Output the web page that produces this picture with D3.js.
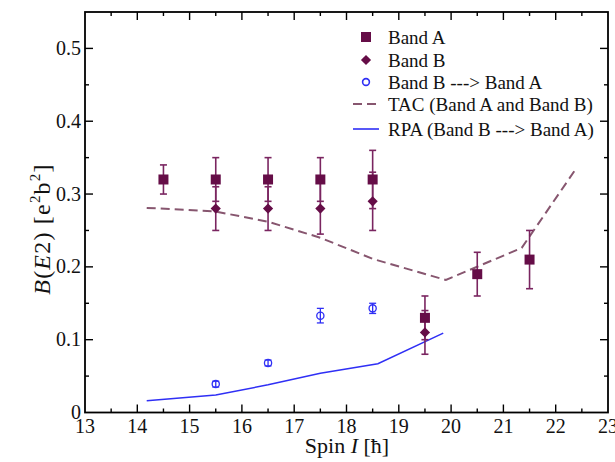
<!DOCTYPE html>
<html>
<head>
<meta charset="utf-8">
<script src="https://cdn.jsdelivr.net/npm/d3@7"></script>
<style>
  html, body { margin: 0; padding: 0; background: #fff; }
  svg { display: block; }
</style>
</head>
<body>
<svg id="chart" width="615" height="462"></svg>
<script>
// Band A (squares)
const bandASpin = [14.5, 15.5, 16.5, 17.5, 18.5, 19.5, 20.5, 21.5];
const bandAVal  = [0.32, 0.32, 0.32, 0.32, 0.32, 0.13, 0.19, 0.21];
const bandAErr  = [0.02, 0.03, 0.03, 0.03, 0.04, 0.03, 0.03, 0.04];

// Band B (diamonds)
const bandBSpin = [15.5, 16.5, 17.5, 18.5, 19.5];
const bandBVal  = [0.28, 0.28, 0.28, 0.29, 0.11];
const bandBErr  = [0.03, 0.03, 0.035, 0.04, 0.03];

// Band B ---> Band A (open circles)
const transSpin = [15.5, 16.5, 17.5, 18.5];
const transVal  = [0.039, 0.068, 0.133, 0.143];
const transErr  = [0.004, 0.004, 0.010, 0.007];

// TAC calculation
const tacSpin = [14.18, 15.5, 16.5, 17.5, 18.5, 19.9, 21.35, 22.4];
const tacVal  = [0.281, 0.276, 0.262, 0.240, 0.211, 0.182, 0.226, 0.336];

// RPA calculation
const rpaSpin = [14.18, 15.5, 16.5, 17.5, 18.6, 19.85];
const rpaVal  = [0.016, 0.024, 0.038, 0.054, 0.067, 0.109];

// Axis ticks
const xTicks = [13, 14, 15, 16, 17, 18, 19, 20, 21, 22, 23];
const yTicks = [0, 0.1, 0.2, 0.3, 0.4, 0.5];
const yTickLabels = ["0", "0.1", "0.2", "0.3", "0.4", "0.5"];

const legendItems = ["Band A", "Band B", "Band B ---> Band A",
                     "TAC (Band A and Band B)", "RPA (Band B ---> Band A)"];

const maroon = "#650d47";
const errColor = "#7a2560";
const tacColor = "#87566f";
const blue = "#2f2ff5";
const serif = "'Liberation Serif', 'Times New Roman', Times, serif";

const svg = d3.select("#chart").style("font-family", serif);
const pLeft = 85, pRight = 608, pTop = 12, pBottom = 412.5;

const x = d3.scaleLinear().domain([13, 23]).range([pLeft, pRight]);
const y = d3.scaleLinear().domain([0, 0.55]).range([pBottom, pTop]);

const zip = (xs, ys) => xs.map((s, i) => [s, ys[i]]);

// Tick marks on all four sides, pointing inward
const xMinor = d3.range(13.5, 23, 1);
const yMinor = d3.range(0.05, 0.55, 0.1);
const ticks = svg.append("g").attr("stroke", "#000").attr("stroke-width", 1.4);
function xTickMarks(vals, len) {
  vals.forEach(v => {
    ticks.append("line").attr("x1", x(v)).attr("x2", x(v)).attr("y1", pBottom).attr("y2", pBottom - len);
    ticks.append("line").attr("x1", x(v)).attr("x2", x(v)).attr("y1", pTop).attr("y2", pTop + len);
  });
}
function yTickMarks(vals, len) {
  vals.forEach(v => {
    ticks.append("line").attr("y1", y(v)).attr("y2", y(v)).attr("x1", pLeft).attr("x2", pLeft + len);
    ticks.append("line").attr("y1", y(v)).attr("y2", y(v)).attr("x1", pRight).attr("x2", pRight - len);
  });
}
xTickMarks(xTicks.slice(1, -1), 8);
xTickMarks(xMinor, 4);
yTickMarks(yTicks.slice(1), 8);
yTickMarks(yMinor, 4);

// Frame
svg.append("rect")
  .attr("x", pLeft).attr("y", pTop)
  .attr("width", pRight - pLeft).attr("height", pBottom - pTop)
  .attr("fill", "none").attr("stroke", "#000").attr("stroke-width", 1.8);

// Tick labels
svg.append("g").selectAll("text").data(xTicks).join("text")
  .attr("x", d => x(d)).attr("y", 433)
  .attr("text-anchor", "middle").attr("font-size", 20).attr("fill", "#111")
  .text(d => d);
svg.append("g").selectAll("text").data(yTicks).join("text")
  .attr("x", 81).attr("y", d => y(d) + 6.5)
  .attr("text-anchor", "end").attr("font-size", 20).attr("fill", "#111")
  .text((d, i) => yTickLabels[i]);

// Axis titles
const xt = svg.append("text").attr("x", 347).attr("y", 453)
  .attr("text-anchor", "middle").attr("font-size", 22).attr("fill", "#111");
xt.append("tspan").text("Spin ");
xt.append("tspan").attr("font-style", "italic").text("I");
xt.append("tspan").text(" [ħ]");

const yt = svg.append("text")
  .attr("transform", "translate(50,229) rotate(-90)")
  .attr("text-anchor", "middle").attr("font-size", 24)
  .attr("letter-spacing", 1.2).attr("fill", "#111");
yt.append("tspan").attr("font-style", "italic").text("B");
yt.append("tspan").text("(");
yt.append("tspan").attr("font-style", "italic").text("E");
yt.append("tspan").text("2) [e");
yt.append("tspan").attr("font-size", 15).attr("dy", -10).text("2");
yt.append("tspan").attr("dy", 10).text("b");
yt.append("tspan").attr("font-size", 15).attr("dy", -10).text("2");
yt.append("tspan").attr("dy", 10).text("]");

// Theory curves
const line = d3.line().x(d => x(d[0])).y(d => y(d[1]));
svg.append("path").datum(zip(tacSpin, tacVal))
  .attr("d", line).attr("fill", "none")
  .attr("stroke", tacColor).attr("stroke-width", 2)
  .attr("stroke-dasharray", "9,5");
svg.append("path").datum(zip(rpaSpin, rpaVal))
  .attr("d", line).attr("fill", "none")
  .attr("stroke", blue).attr("stroke-width", 1.5);

// Error bars
function errorBars(spins, vals, errs, color, cap, width) {
  const g = svg.append("g").attr("stroke", color).attr("stroke-width", width).attr("fill", "none");
  spins.forEach((s, i) => {
    const cx = x(s), lo = y(vals[i] - errs[i]), hi = y(vals[i] + errs[i]);
    g.append("line").attr("x1", cx).attr("x2", cx).attr("y1", lo).attr("y2", hi);
    g.append("line").attr("x1", cx - cap).attr("x2", cx + cap).attr("y1", lo).attr("y2", lo);
    g.append("line").attr("x1", cx - cap).attr("x2", cx + cap).attr("y1", hi).attr("y2", hi);
  });
}
errorBars(bandASpin, bandAVal, bandAErr, errColor, 3.5, 1.6);
errorBars(bandBSpin, bandBVal, bandBErr, errColor, 3.5, 1.6);
errorBars(transSpin, transVal, transErr, blue, 3.5, 1.3);

// Markers: filled squares, diamonds (rotated squares), open circles
const sq = d3.symbol().type(d3.symbolSquare).size(100);
const dia = d3.symbol().type(d3.symbolSquare).size(52);

svg.append("g").selectAll("path").data(zip(bandASpin, bandAVal)).join("path")
  .attr("d", sq).attr("transform", d => `translate(${x(d[0])},${y(d[1])})`)
  .attr("fill", maroon);
svg.append("g").selectAll("path").data(zip(bandBSpin, bandBVal)).join("path")
  .attr("d", dia).attr("transform", d => `translate(${x(d[0])},${y(d[1])}) rotate(45)`)
  .attr("fill", maroon);
svg.append("g").selectAll("circle").data(zip(transSpin, transVal)).join("circle")
  .attr("cx", d => x(d[0])).attr("cy", d => y(d[1])).attr("r", 3.6)
  .attr("fill", "none").attr("stroke", blue).attr("stroke-width", 1.3);

// Legend
const lg = svg.append("g");
const rowY = [37, 60, 82, 104, 129];
const mx = 366, tx = 388;
lg.append("path").attr("d", sq).attr("transform", `translate(${mx},${rowY[0]})`).attr("fill", maroon);
lg.append("path").attr("d", dia).attr("transform", `translate(${mx},${rowY[1]}) rotate(45)`).attr("fill", maroon);
lg.append("circle").attr("cx", mx).attr("cy", rowY[2]).attr("r", 3.4)
  .attr("fill", "none").attr("stroke", blue).attr("stroke-width", 1.6);
lg.append("line").attr("x1", 353).attr("x2", 379).attr("y1", rowY[3]).attr("y2", rowY[3])
  .attr("stroke", tacColor).attr("stroke-width", 2).attr("stroke-dasharray", "9,5");
lg.append("line").attr("x1", 353).attr("x2", 379).attr("y1", rowY[4]).attr("y2", rowY[4])
  .attr("stroke", blue).attr("stroke-width", 1.6);
lg.selectAll("text.lab").data(legendItems).join("text")
  .attr("class", "lab")
  .attr("x", tx).attr("y", (d, i) => rowY[i] + 6.5)
  .attr("font-size", 19).attr("fill", "#111")
  .text(d => d);
</script>
</body>
</html>
